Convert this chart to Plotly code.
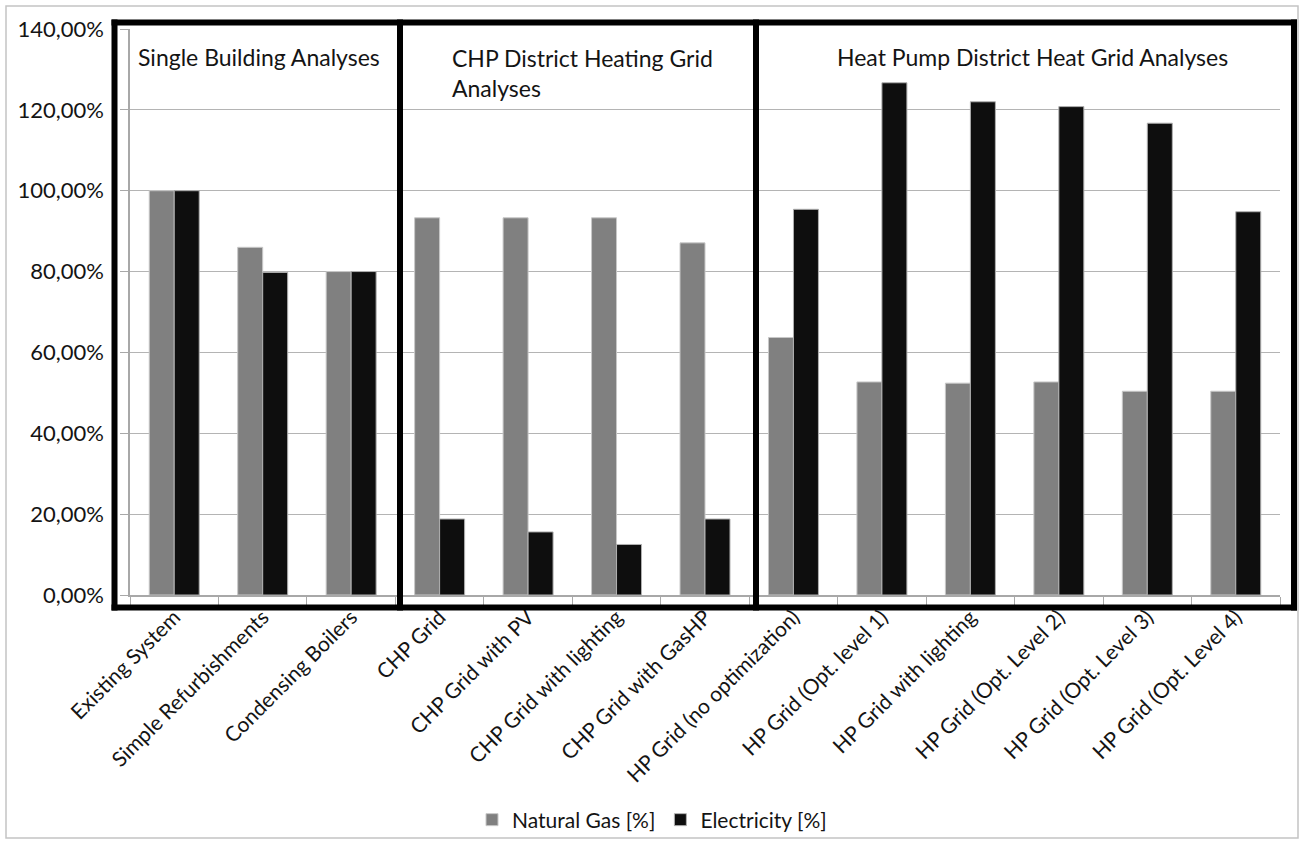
import plotly.graph_objects as go

# Scenario categories (x axis)
categories = [
    "Existing System",
    "Simple Refurbishments",
    "Condensing Boilers",
    "CHP Grid",
    "CHP Grid with PV",
    "CHP Grid with lighting",
    "CHP Grid with GasHP",
    "HP Grid (no optimization)",
    "HP Grid (Opt. level 1)",
    "HP Grid with lighting",
    "HP Grid (Opt. Level 2)",
    "HP Grid (Opt. Level 3)",
    "HP Grid (Opt. Level 4)",
]

# Relative consumption in percent of the existing system
natural_gas = [100.0, 86.0, 80.0, 93.3, 93.3, 93.3, 87.1, 63.7, 52.7, 52.4, 52.7, 50.4, 50.4]
electricity = [100.0, 79.8, 80.0, 18.8, 15.6, 12.5, 18.8, 95.4, 126.7, 122.0, 120.8, 116.7, 94.8]

series_names = ["Natural Gas [%]", "Electricity [%]"]
y_ticks = [0, 20, 40, 60, 80, 100, 120, 140]
y_tick_labels = [f"{v:.2f}".replace(".", ",") + "%" for v in y_ticks]

group_titles = [
    "Single Building Analyses",
    "CHP District Heating Grid<br>Analyses",
    "Heat Pump District Heat Grid Analyses",
]

FONT = "Lato"
TEXT = "#141414"

W, H = 1299, 843
L, R, T, B = 130, 1280, 29, 595  # plot area in pixels


def px_x(p):
    return (p - L) / (R - L)


def px_y(p):
    return (B - p) / (B - T)


fig = go.Figure()
fig.add_trace(go.Bar(
    x=categories, y=natural_gas, name=series_names[0],
    marker=dict(color="#808080", line=dict(color="#c8c8c8", width=1)),
))
fig.add_trace(go.Bar(
    x=categories, y=electricity, name=series_names[1],
    marker=dict(color="#0e0e0e", line=dict(color="#b0b0b0", width=1)),
))

shapes = []
# thin outer frame of the chart area
shapes.append(dict(type="rect", xref="paper", yref="paper",
                   x0=px_x(6), x1=px_x(1298), y0=px_y(838), y1=px_y(6),
                   line=dict(color="#c4c4c4", width=1.5), layer="below"))

# thick frames around the three analysis groups
top, bottom = 22.5, 607.5
for xv in [114.5, 400, 756, 1294]:
    shapes.append(dict(type="line", xref="paper", yref="paper",
                       x0=px_x(xv), x1=px_x(xv), y0=px_y(top - 3), y1=px_y(bottom + 3),
                       line=dict(color="black", width=6), layer="above"))
for yv in [top, bottom]:
    shapes.append(dict(type="line", xref="paper", yref="paper",
                       x0=px_x(111.5), x1=px_x(1297), y0=px_y(yv), y1=px_y(yv),
                       line=dict(color="black", width=6), layer="above"))

annotations = [
    dict(text=group_titles[0], x=px_x(136), y=px_y(57)),
    dict(text=group_titles[1], x=px_x(450), y=px_y(73)),
    dict(text=group_titles[2], x=px_x(835), y=px_y(57)),
]
for a in annotations:
    a.update(xref="paper", yref="paper", xanchor="left", yanchor="middle",
             showarrow=False, align="left",
             font=dict(family=FONT, size=23, color=TEXT))

fig.update_layout(
    width=W, height=H,
    margin=dict(l=L, r=W - R, t=T, b=H - B, pad=0, autoexpand=False),
    paper_bgcolor="white", plot_bgcolor="white",
    barmode="group", bargap=0.435, bargroupgap=0,
    font=dict(family=FONT, size=20, color=TEXT),
    shapes=shapes, annotations=annotations,
    legend=dict(orientation="h", x=px_x(652), y=px_y(820),
                xanchor="center", yanchor="middle",
                bgcolor="rgba(0,0,0,0)",
                font=dict(family=FONT, size=21, color=TEXT),
                itemwidth=30, tracegroupgap=0),
)

fig.update_xaxes(
    type="category", tickangle=-45, automargin=False,
    showline=True, linecolor="#a8a8a8", linewidth=1.5,
    ticks="outside", tickson="boundaries", ticklen=8, tickcolor="#a8a8a8",
    showgrid=False,
    tickfont=dict(family=FONT, size=21, color=TEXT),
)
fig.update_yaxes(
    range=[0, 140], tickvals=y_ticks, ticktext=y_tick_labels, automargin=False,
    showline=True, linecolor="#a8a8a8", linewidth=1.5,
    ticks="outside", ticklen=8, tickcolor="#a8a8a8",
    showgrid=True, gridcolor="#b4b4b4", gridwidth=1.3,
    zeroline=False, ticklabelstandoff=12,
    tickfont=dict(family=FONT, size=22, color=TEXT),
)

fig.write_html("out.html")
